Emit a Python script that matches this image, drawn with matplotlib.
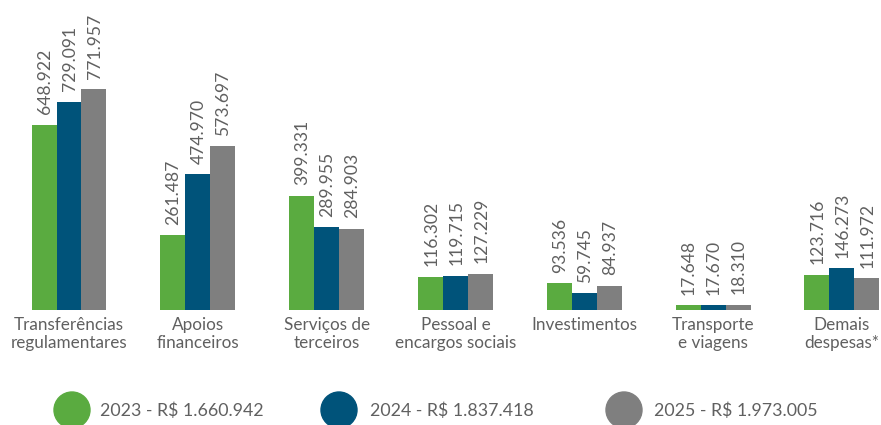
import matplotlib.pyplot as plt
from matplotlib.patches import Ellipse
import numpy as np

plt.rcParams['font.family'] = ['Lato', 'DejaVu Sans']

# Dados (R$ mil)
categories = ["Transferências\nregulamentares", "Apoios\nfinanceiros", "Serviços de\nterceiros",
              "Pessoal e\nencargos sociais", "Investimentos", "Transporte\ne viagens", "Demais\ndespesas*"]
v2023 = [648.922, 261.487, 399.331, 116.302, 93.536, 17.648, 123.716]
v2024 = [729.091, 474.970, 289.955, 119.715, 59.745, 17.670, 146.273]
v2025 = [771.957, 573.697, 284.903, 127.229, 84.937, 18.310, 111.972]
legend_labels = ["2023 - R$ 1.660.942", "2024 - R$ 1.837.418", "2025 - R$ 1.973.005"]

colors = ['#5aab40', '#00537a', '#7f7f7f']
txt_color = '#606060'

W, H = 881, 425
fig = plt.figure(figsize=(W / 100, H / 100), dpi=100)
ax = fig.add_axes([0, (H - 310) / H, 1, 310 / H])

x = np.arange(len(categories))
bw = 0.194
series = [v2023, v2024, v2025]
for i, vals in enumerate(series):
    pos = x + (i - 1) * bw
    ax.bar(pos, vals, width=bw, color=colors[i], linewidth=0)
    for px, v in zip(pos, vals):
        ax.annotate(f"{v:.3f}", (px, v), xytext=(0.5, 7.5), textcoords='offset points',
                    rotation=90, ha='center', va='bottom', fontsize=12.6, color=txt_color)

ax.set_xlim(-69 / 128.83, (W - 69) / 128.83)
ax.set_ylim(0, 1085)
ax.set_xticks(x, categories, fontsize=12.3, color=txt_color, linespacing=1.15)
ax.tick_params(axis='x', length=0, pad=5)
ax.set_yticks([])
for s in ax.spines.values():
    s.set_visible(False)

# Legenda
leg_circle_x = [72, 339, 624]
leg_text_x = [100, 370, 654]
for i in range(3):
    fig.add_artist(Ellipse((leg_circle_x[i] / W, 1 - 410 / H), 36 / W, 36 / H,
                           transform=fig.transFigure, color=colors[i], clip_on=False))
    fig.text(leg_text_x[i] / W, 1 - 411 / H, legend_labels[i], va='center', ha='left',
             fontsize=12.8, color=txt_color)

fig.savefig('out.png', dpi=100)
